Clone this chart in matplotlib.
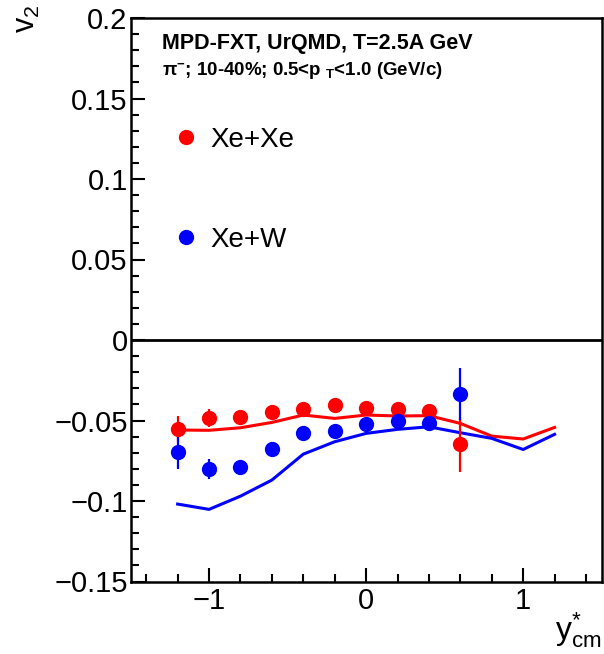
import matplotlib
matplotlib.use('Agg')
import matplotlib.pyplot as plt
from matplotlib.lines import Line2D
from matplotlib.ticker import FixedLocator, MultipleLocator

# Data
y_cm_points = [-1.2, -1.0, -0.8, -0.6, -0.4, -0.2, 0.0, 0.2, 0.4, 0.6]
v2_xexe = [-0.0555, -0.0487, -0.0477, -0.0445, -0.0429, -0.0404, -0.0421, -0.0431, -0.0439, -0.0648]
v2_xexe_err = [0.008, 0.0056, 0.004, 0.004, 0.004, 0.004, 0.004, 0.004, 0.004, 0.017]
v2_xew = [-0.0696, -0.0802, -0.0791, -0.0680, -0.0580, -0.0566, -0.0524, -0.0501, -0.0518, -0.0336]
v2_xew_err = [0.0103, 0.0062, 0.004, 0.004, 0.004, 0.004, 0.004, 0.004, 0.004, 0.016]

y_cm_model = [-1.2, -1.0, -0.8, -0.6, -0.4, -0.2, 0.0, 0.2, 0.4, 0.6, 0.8, 1.0, 1.2]
model_xexe = [-0.0559, -0.0561, -0.0545, -0.0512, -0.0466, -0.0487, -0.0466, -0.0472, -0.0470,
              -0.0518, -0.0597, -0.0615, -0.0543]
model_xew = [-0.1019, -0.1052, -0.0970, -0.0870, -0.0709, -0.0632, -0.0580, -0.0555, -0.0539,
             -0.0576, -0.0611, -0.0680, -0.0586]

y_ticks = [0.2, 0.15, 0.1, 0.05, 0.0, -0.05, -0.1, -0.15]
y_tick_labels = ['0.2', '0.15', '0.1', '0.05', '0', '\u22120.05', '\u22120.1', '\u22120.15']
x_ticks = [-1, 0, 1]
x_tick_labels = ['\u22121', '0', '1']

series_labels = ['Xe+Xe', 'Xe+W']
series_colors = ['#ff0000', '#0000ff']

plt.rcParams['font.family'] = ['Liberation Sans', 'DejaVu Sans']
plt.rcParams['mathtext.default'] = 'regular'

fig = plt.figure(figsize=(6.04, 6.54), dpi=100)
ax = fig.add_axes([130.5 / 604, 72.5 / 654, 471.2 / 604, 563.5 / 654])

# model curves first, points on top
ax.plot(y_cm_model, model_xexe, color=series_colors[0], lw=2.2, zorder=2)
ax.plot(y_cm_model, model_xew, color=series_colors[1], lw=2.2, zorder=2)

for vals, errs, col in [(v2_xexe, v2_xexe_err, series_colors[0]),
                        (v2_xew, v2_xew_err, series_colors[1])]:
    ax.errorbar(y_cm_points, vals, yerr=errs, fmt='o', color=col, ms=11,
                elinewidth=1.6, capsize=0, mew=0, zorder=3)

ax.axhline(0, color='black', lw=2.0, zorder=1)

ax.set_xlim(-1.5, 1.5)
ax.set_ylim(-0.15, 0.2)

ax.yaxis.set_major_locator(FixedLocator(y_ticks))
ax.set_yticklabels(y_tick_labels)
ax.yaxis.set_minor_locator(MultipleLocator(0.01))
ax.xaxis.set_major_locator(FixedLocator(x_ticks))
ax.set_xticklabels(x_tick_labels)
ax.xaxis.set_minor_locator(MultipleLocator(0.2))

ax.tick_params(which='both', direction='in', top=False, right=False,
               width=1.5, labelsize=21)
ax.tick_params(which='major', length=10)
ax.tick_params(which='minor', length=6)
ax.tick_params(axis='y', pad=2)
ax.tick_params(axis='x', pad=4)
for side in ax.spines.values():
    side.set_linewidth(1.8)

# header text
ax.text(0.0668, 0.9445, 'MPD-FXT, UrQMD, T=2.5A GeV', transform=ax.transAxes,
        fontsize=15.5, fontweight='bold', va='baseline', ha='left')
ax.text(0.0668, 0.8989, '\u03c0$^{-}$; 10-40%; 0.5<p $_{T}$<1.0 (GeV/c)',
        transform=ax.transAxes, fontsize=13.5, fontweight='bold',
        va='baseline', ha='left')

handles = [Line2D([], [], marker='o', ls='none', color=c, ms=11, mew=0)
           for c in series_colors]
ax.legend(handles, series_labels, loc='upper left', bbox_to_anchor=(0.0944, 0.8074),
          borderpad=0, borderaxespad=0, frameon=False, handlelength=0.8,
          handletextpad=0.47, labelspacing=2.68, fontsize=20)

# axis titles, ROOT style at the axis ends
fig.text(26.5 / 604, 1 - 5 / 654, 'v$_{2}$', rotation=90, fontsize=22,
         ha='center', va='top')
fig.text(602 / 604, 1 - 640 / 654, 'y$^{*}_{cm}$', fontsize=23,
         ha='right', va='baseline')

fig.savefig('out.png', dpi=100)
